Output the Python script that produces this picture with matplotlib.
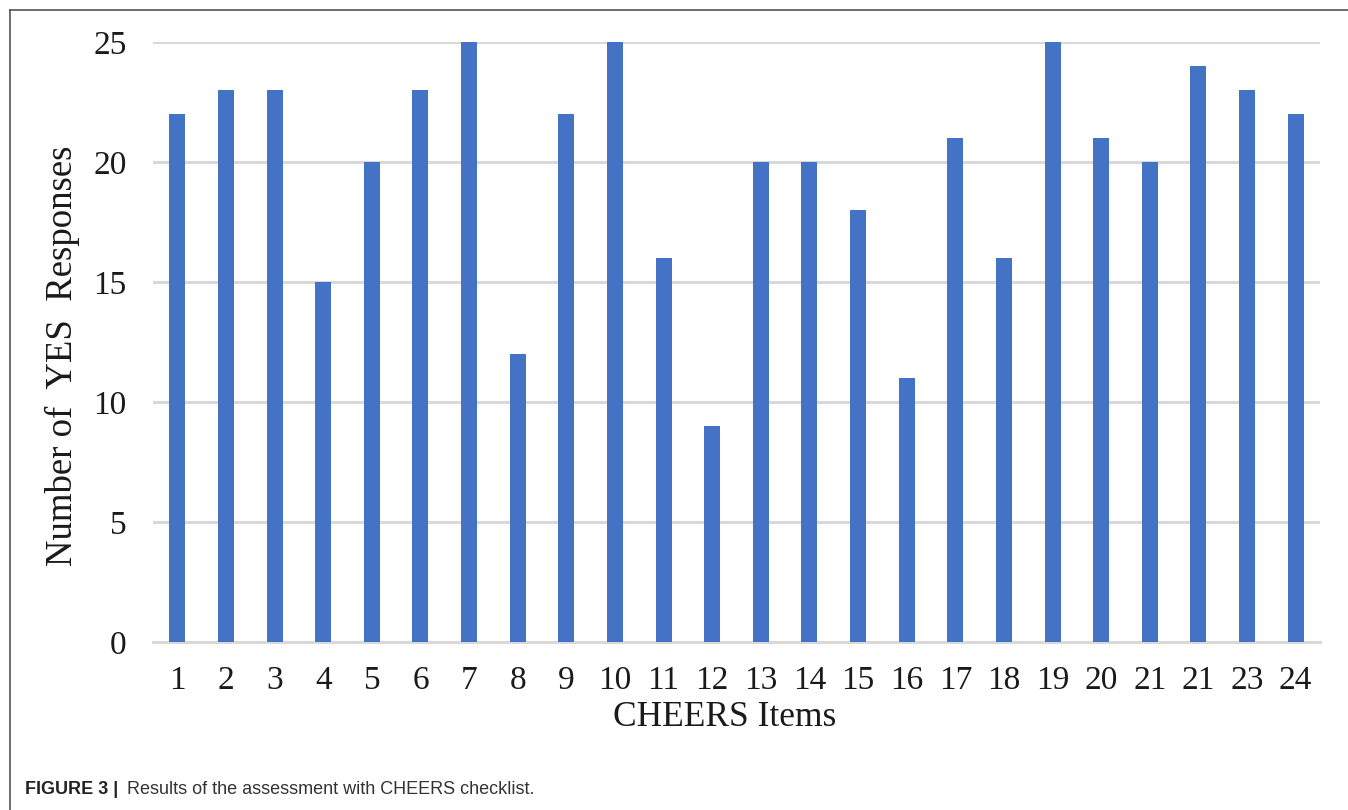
"""
Число ответов YES по пунктам чек-листа CHEERS
"""

import matplotlib.pyplot as plt
from matplotlib.lines import Line2D
import numpy as np

items = ['1', '2', '3', '4', '5', '6', '7', '8', '9', '10', '11', '12',
         '13', '14', '15', '16', '17', '18', '19', '20', '21', '21', '23', '24']
yes_counts = [22, 23, 23, 15, 20, 23, 25, 12, 22, 25, 16, 9,
              20, 20, 18, 11, 21, 16, 25, 21, 20, 24, 23, 22]
y_ticks = [0, 5, 10, 15, 20, 25]

W, H = 1348, 810
fig = plt.figure(figsize=(W / 100, H / 100), dpi=100)
ax = fig.add_axes([153 / W, 1 - 642 / H, (1320 - 153) / W, (642 - 42) / H])

x = np.arange(len(items))
ax.bar(x, yes_counts, width=0.33, color='#4472C4', zorder=3)

ax.set_xlim(-0.5, len(items) - 0.5)
ax.set_ylim(0, 25)
ax.set_yticks(y_ticks)
ax.set_xticks(x)
ax.set_xticklabels(items)

serif = 'Liberation Serif'
for lab in ax.get_xticklabels() + ax.get_yticklabels():
    lab.set_fontfamily(serif)
    lab.set_fontsize(24)
    lab.set_color('#1a1a1a')

ax.tick_params(axis='both', length=0)
ax.tick_params(axis='y', pad=19)
ax.tick_params(axis='x', pad=17)

ax.grid(True, axis='y', color='#d9d9d9', linewidth=2.2, zorder=0)
for side in ['top', 'right', 'left']:
    ax.spines[side].set_visible(False)
ax.spines['bottom'].set_color('#d9d9d9')
ax.spines['bottom'].set_linewidth(2.2)

# подписи осей
fig.text(62 / W, 1 - 356 / H, 'Number of  YES  Responses', fontfamily=serif,
         fontsize=26.5, color='#1a1a1a', rotation=90, ha='center', va='center')
fig.text(725 / W, 1 - 718 / H, 'CHEERS Items', fontfamily=serif,
         fontsize=25.5, color='#1a1a1a', ha='center', va='center')

# рамка вокруг рисунка
fig.add_artist(Line2D([10 / W, 10 / W], [0, 1 - 10 / H], color='#555555', lw=1.2))
fig.add_artist(Line2D([10 / W, 1], [1 - 10 / H, 1 - 10 / H], color='#555555', lw=1.2))

# подпись к рисунку
fig.text(25 / W, 1 - 790 / H, 'FIGURE 3 |', fontfamily='Liberation Sans',
         fontsize=13, fontweight='bold', color='#222222', va='center')
fig.text(127 / W, 1 - 790 / H, 'Results of the assessment with CHEERS checklist.',
         fontfamily='Liberation Sans', fontsize=13, color='#333333', va='center')

fig.savefig('out.png', dpi=100)
